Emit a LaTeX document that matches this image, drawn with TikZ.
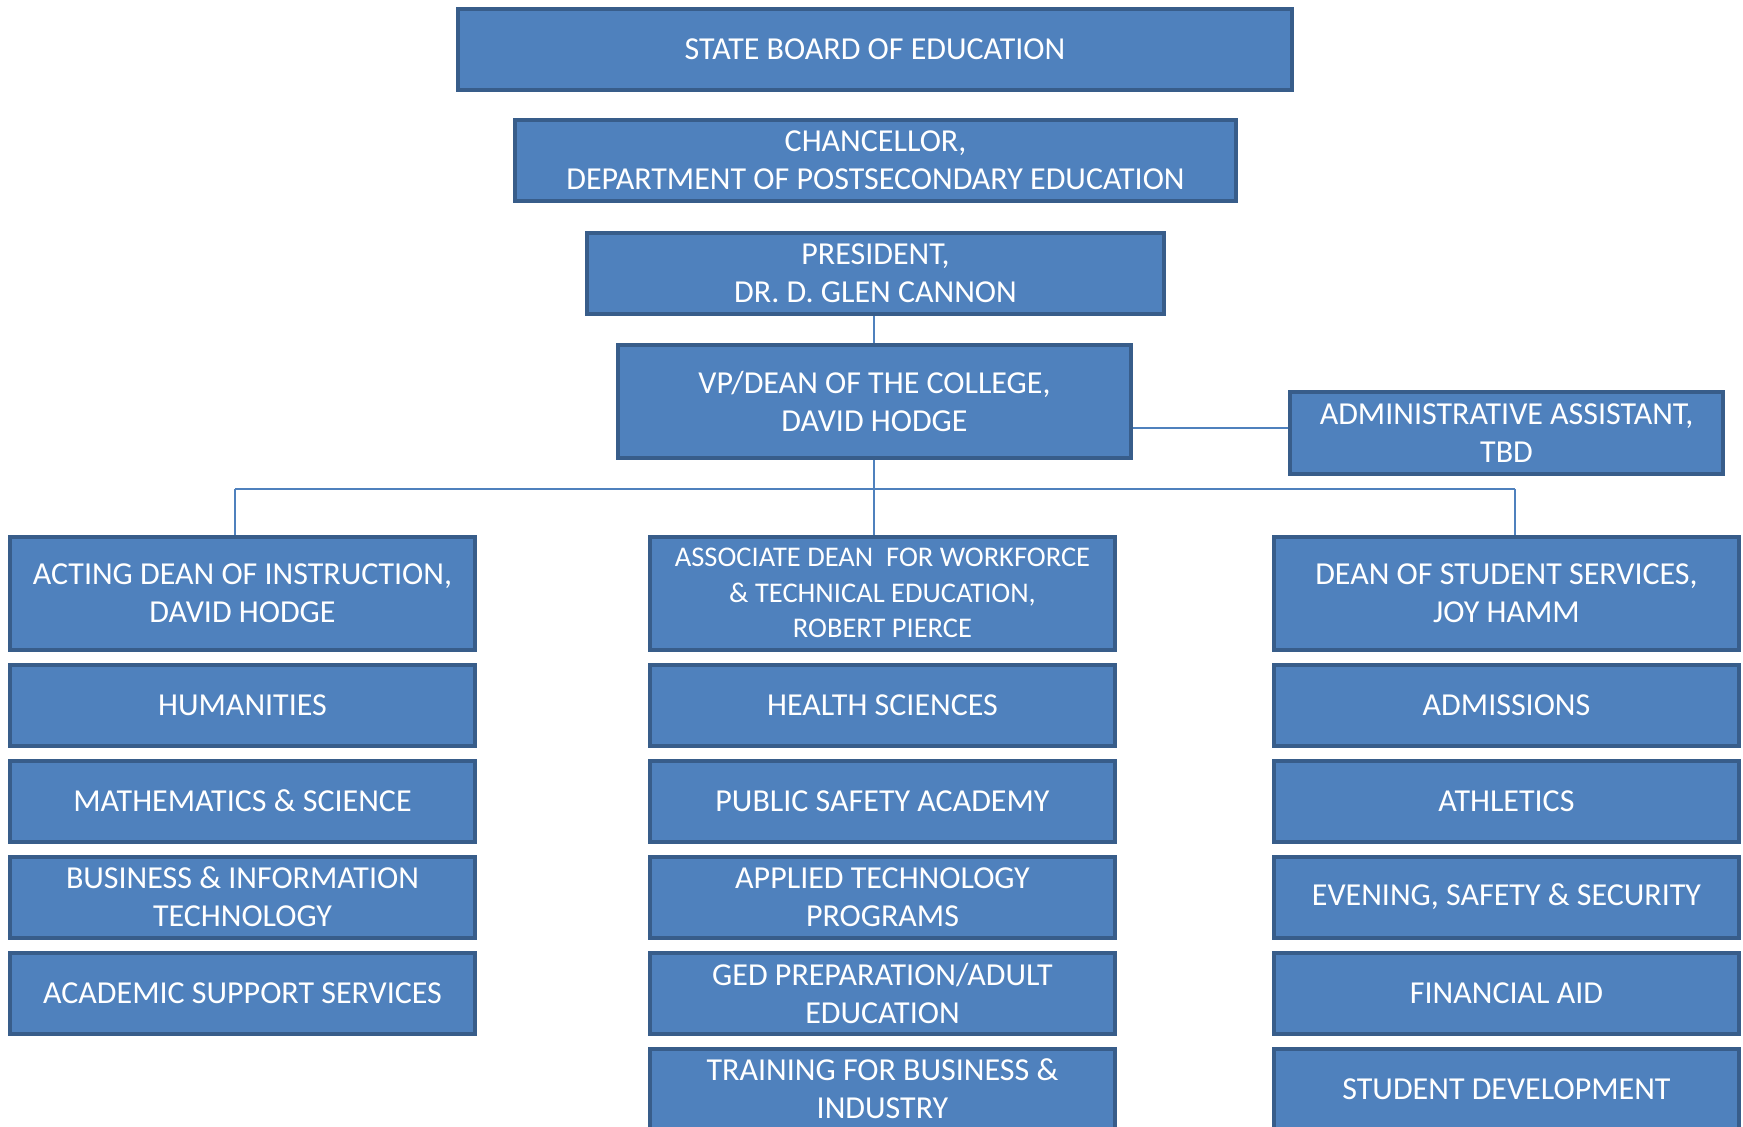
\documentclass[tikz,border=0pt]{standalone}
\usepackage{fontspec}
\setmainfont{Carlito}
\usetikzlibrary{backgrounds}
\definecolor{boxfill}{HTML}{4F81BD}
\definecolor{boxline}{HTML}{385D8A}
\definecolor{conn}{HTML}{4F81BD}
\tikzset{
  orgbox/.style={draw=boxline, line width=4pt, fill=boxfill, text=white,
    inner sep=0pt, align=center, font=\fontsize{32}{38}\selectfont},
  colbox/.style={orgbox, minimum width=465pt, minimum height=81pt},
  headbox/.style={orgbox, minimum width=465pt, minimum height=113pt},
  link/.style={draw=conn, line width=2pt}
}
\begin{document}
\begin{tikzpicture}[x=1pt,y=-1pt]
\useasboundingbox (0,0) rectangle (1743,1127);
% top chain
\node[orgbox, minimum width=834pt, minimum height=81pt] (sb) at (875,49) {STATE BOARD OF EDUCATION};
\node[orgbox, minimum width=721pt, minimum height=81pt] (ch) at (875.5,160.5) {CHANCELLOR,\\DEPARTMENT OF POSTSECONDARY EDUCATION};
\node[orgbox, minimum width=577pt, minimum height=81pt] (pr) at (875.5,273.5) {PRESIDENT,\\DR. D. GLEN CANNON};
\node[orgbox, minimum width=513pt, minimum height=113pt] (vp) at (874.5,401) {VP/DEAN OF THE COLLEGE,\\DAVID HODGE};
\node[orgbox, minimum width=433pt, minimum height=82pt] (aa) at (1506.5,433) {ADMINISTRATIVE ASSISTANT,\\TBD};
% left column
\node[headbox] (l0) at (242.5,593) {ACTING DEAN OF INSTRUCTION,\\DAVID HODGE};
\node[colbox] (l1) at (242.5,705) {HUMANITIES};
\node[colbox] (l2) at (242.5,801) {MATHEMATICS \& SCIENCE};
\node[colbox] (l3) at (242.5,897) {BUSINESS \& INFORMATION\\TECHNOLOGY};
\node[colbox] (l4) at (242.5,993) {ACADEMIC SUPPORT SERVICES};
% middle column
\node[headbox, font=\fontsize{28.5}{35.5}\selectfont] (m0) at (882.5,593) {ASSOCIATE DEAN\ \ FOR WORKFORCE\\\&\ TECHNICAL EDUCATION,\\ROBERT PIERCE};
\node[colbox] (m1) at (882.5,705) {HEALTH SCIENCES};
\node[colbox] (m2) at (882.5,801) {PUBLIC SAFETY ACADEMY};
\node[colbox] (m3) at (882.5,897) {APPLIED TECHNOLOGY\\PROGRAMS};
\node[colbox] (m4) at (882.5,993) {GED PREPARATION/ADULT\\EDUCATION};
\node[colbox] (m5) at (882.5,1089) {TRAINING FOR BUSINESS \&\\INDUSTRY};
% right column
\node[headbox] (r0) at (1506.5,593) {DEAN OF STUDENT SERVICES,\\JOY HAMM};
\node[colbox] (r1) at (1506.5,705) {ADMISSIONS};
\node[colbox] (r2) at (1506.5,801) {ATHLETICS};
\node[colbox] (r3) at (1506.5,897) {EVENING, SAFETY \& SECURITY};
\node[colbox] (r4) at (1506.5,993) {FINANCIAL AID};
\node[colbox] (r5) at (1506.5,1089) {STUDENT DEVELOPMENT};
% connectors
\begin{scope}[on background layer]
\coordinate (bm) at (874,489);
\coordinate (bl) at (235,489);
\coordinate (br) at (1515,489);
\coordinate (va) at (1132,428);
\coordinate (vb) at (1289,428);
\draw[link] (pr.south -| bm) -- (vp.north -| bm);
\draw[link] (vp.south -| bm) -- (m0.north -| bm);
\draw[link] (bl) -- (br);
\draw[link] (bl) -- (l0.north -| bl);
\draw[link] (br) -- (r0.north -| br);
\draw[link] (vp.east |- va) -- (aa.west |- vb);
\end{scope}
\end{tikzpicture}
\end{document}
